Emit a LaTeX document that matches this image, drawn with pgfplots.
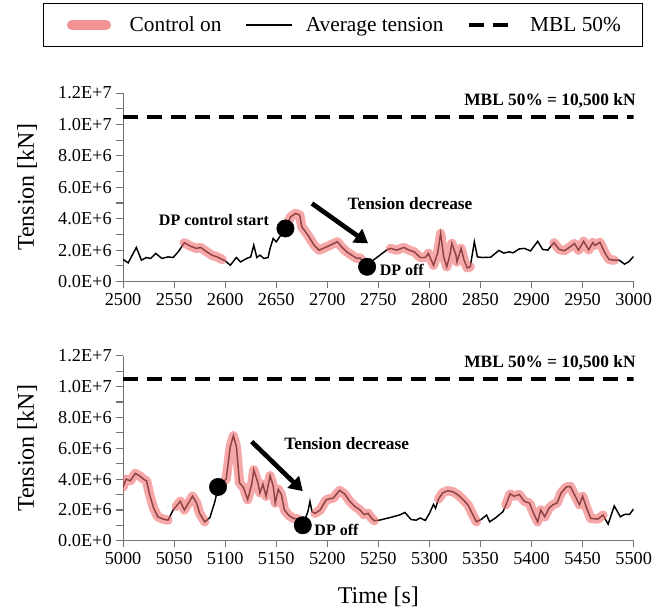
\documentclass[border=0pt]{standalone}
\usepackage{fontspec}
\setmainfont{Liberation Serif}
\usepackage{pgfplots}
\pgfplotsset{compat=1.18}
\usepackage{pgfplotstable}
\usetikzlibrary{arrows.meta}

\definecolor{ctrl}{RGB}{240,110,110}

% tension in 10^6 kN; c = value while control is on, nan otherwise
\pgfplotstableread{
t v c
2500 1.41 nan
2505 1.19 nan
2513 2.17 nan
2518 1.36 nan
2523 1.53 nan
2527 1.47 nan
2532 1.79 nan
2538 1.47 nan
2544 1.57 nan
2549 1.53 nan
2554 1.89 nan
2560 2.47 2.47
2566 2.25 2.25
2572 2.11 2.11
2576 2.17 2.17
2582 1.89 1.89
2587 1.68 1.68
2592 1.57 1.57
2597 1.41 1.41
2600 1.32 nan
2605 1.04 nan
2611 1.53 nan
2615 1.25 nan
2621 1.47 nan
2625 1.57 nan
2628 2.32 nan
2631 1.53 nan
2634 1.68 nan
2638 1.47 nan
2642 1.53 nan
2644 2.11 nan
2647 2.74 nan
2650 2.53 nan
2659 3.38 3.38
2664 4.12 4.12
2669 4.34 4.34
2673 4.23 4.23
2675 3.48 3.48
2678 3.23 3.23
2682 2.85 2.85
2687 2.32 2.32
2692 2.00 2.00
2698 2.17 2.17
2703 2.32 2.32
2710 2.53 2.53
2714 2.21 2.21
2719 1.89 1.89
2724 1.68 1.68
2729 1.47 1.47
2732 1.50 1.50
2739 0.94 0.94
2745 1.36 nan
2758 2.00 nan
2762 2.11 2.11
2768 2.00 2.00
2775 2.17 2.17
2780 2.00 2.00
2785 1.89 1.89
2791 1.53 1.53
2796 1.53 1.53
2799 1.79 1.79
2804 1.04 1.04
2808 1.79 1.79
2811 3.06 3.06
2814 1.57 1.57
2817 0.94 0.94
2820 1.68 1.68
2822 2.43 2.43
2826 1.68 1.68
2827 1.25 1.25
2831 2.11 2.11
2834 1.36 1.36
2837 0.87 0.87
2840 0.94 0.94
2844 2.53 nan
2847 1.57 nan
2852 1.53 nan
2860 1.55 nan
2868 1.98 nan
2873 1.81 nan
2878 1.89 nan
2882 1.83 nan
2888 2.08 nan
2893 2.11 nan
2899 1.95 nan
2906 2.56 nan
2911 2.04 nan
2916 2.00 nan
2919 2.25 nan
2922 2.47 2.47
2927 2.05 2.05
2932 1.96 1.96
2937 2.17 2.17
2942 2.42 2.42
2946 2.00 2.00
2951 2.56 2.56
2956 2.02 2.02
2960 2.48 2.48
2962 2.30 2.30
2967 2.50 2.50
2972 1.80 1.80
2976 1.40 1.40
2981 1.36 1.36
2986 1.36 nan
2991 1.11 nan
2995 1.25 nan
3000 1.60 nan
}\topdata

\pgfplotstableread{
t v c
5000 3.49 3.49
5003 4.00 4.00
5007 3.89 3.89
5012 4.37 4.37
5016 4.22 4.22
5020 4.00 4.00
5023 3.89 3.89
5026 3.00 3.00
5030 2.11 2.11
5034 1.56 1.56
5039 1.41 1.41
5044 1.34 1.34
5049 2.00 nan
5052 2.23 2.23
5056 2.56 2.56
5060 2.00 2.00
5068 2.89 2.89
5072 2.45 2.45
5075 1.78 1.78
5080 1.23 1.23
5085 1.50 nan
5090 2.56 nan
5093 3.49 3.49
5101 4.00 4.00
5105 6.10 6.10
5108 6.81 6.81
5111 6.10 6.10
5114 3.77 3.77
5118 3.44 3.44
5122 2.67 2.67
5126 3.67 3.67
5128 4.60 4.60
5132 3.77 3.77
5134 3.11 3.11
5137 3.67 3.67
5140 2.89 2.89
5144 4.22 4.22
5147 3.56 3.56
5149 2.45 2.45
5152 3.34 3.34
5155 3.00 3.00
5158 2.00 2.00
5162 1.67 1.67
5167 1.45 1.45
5171 1.41 1.41
5176 1.01 1.01
5181 1.89 nan
5183 2.56 nan
5185 1.89 nan
5188 1.78 1.78
5193 2.00 2.00
5199 2.67 2.67
5206 2.78 2.78
5212 3.27 3.27
5217 3.04 3.04
5222 2.56 2.56
5227 2.23 2.23
5232 2.00 2.00
5236 1.70 1.70
5240 1.78 1.78
5243 1.50 1.50
5246 1.30 1.30
5251 1.34 nan
5261 1.50 nan
5271 1.68 nan
5276 1.84 nan
5282 1.38 nan
5287 1.34 nan
5291 1.48 nan
5296 1.32 nan
5300 1.78 nan
5304 2.36 nan
5306 2.11 nan
5309 2.72 2.72
5313 3.11 3.11
5318 3.25 3.25
5323 3.18 3.18
5328 2.98 2.98
5333 2.67 2.67
5338 2.30 2.30
5341 1.89 1.89
5346 1.23 1.23
5351 1.40 nan
5356 1.67 nan
5359 1.23 nan
5365 1.50 nan
5372 1.89 nan
5375 2.34 2.34
5379 3.04 3.04
5383 2.89 2.89
5388 3.00 3.00
5393 2.56 2.56
5398 2.45 2.45
5402 1.78 1.78
5406 1.23 1.23
5409 2.00 2.00
5413 1.56 1.56
5417 2.11 2.11
5421 2.34 2.34
5425 2.45 2.45
5429 3.11 3.11
5434 3.49 3.49
5438 3.52 3.52
5442 3.00 3.00
5447 2.34 2.34
5450 2.89 2.89
5454 2.11 2.11
5458 1.45 1.45
5465 1.41 1.41
5470 1.67 1.67
5475 1.08 nan
5481 2.26 nan
5487 1.56 nan
5491 1.71 nan
5496 1.71 nan
5500 2.07 nan
}\botdata

\tikzset{
  note/.style={font=\rmfamily\bfseries\fontsize{12}{14}\selectfont},
  bignote/.style={font=\rmfamily\bfseries\fontsize{13}{15}\selectfont},
}
\pgfplotsset{
  ctrlband/.style={color=ctrl, opacity=0.6, line width=7pt, line cap=round, line join=round},
  avgline/.style={black, line width=1.1pt},
  mbl/.style={black, line width=3pt, dash pattern=on 11pt off 7pt},
  dot/.style={only marks, mark=*, mark size=6.5pt, black},
  tension/.style={
    scale only axis, width=382.75pt,
    anchor=south west, clip mode=individual,
    axis lines=left, axis line style={-, black!55, line width=0.8pt},
    tick style={black!55, line width=0.8pt},
    tick align=outside, major tick length=5pt, minor tick length=5pt,
    ymin=0, ymax=12,
    ytick={0,2,...,12},
    yticklabels={0.0E+0,2.0E+6,4.0E+6,6.0E+6,8.0E+6,1.0E+7,1.2E+7},
    minor y tick num=1,
    scaled ticks=false,
    /pgf/number format/1000 sep={},
    /pgf/number format/assume math mode=true,
    tick label style={font=\rmfamily\fontsize{13.7}{16}\selectfont},
    ylabel={Tension [kN]},
    ylabel style={at={(axis description cs:-0.188,0.5)}, anchor=center,
      font=\rmfamily\fontsize{18}{20}\selectfont},
    legend image code/.code={\draw[##1] (0pt,0pt) -- (34pt,0pt);},
  },
}

\begin{document}
\begin{tikzpicture}
\useasboundingbox (0,0) rectangle (500pt,-461.25pt);

\begin{axis}[tension,
    at={(92.25pt,-211.05pt)}, height=141.3pt,
    xmin=2500, xmax=3000, xtick={2500,2550,...,3000},
    legend columns=3,
    legend style={at={(0.43,1.478)}, anchor=north, draw=black, line width=0.6pt,
      font=\rmfamily\fontsize{16}{18}\selectfont, inner xsep=14pt, inner ysep=8pt,
      /tikz/every odd column/.append style={column sep=8pt},
      /tikz/every even column/.append style={column sep=16pt}},
  ]
  \addlegendimage{ctrlband, opacity=0.75, shorten <=4pt, shorten >=4pt}\addlegendentry{Control on}
  \addlegendimage{avgline}\addlegendentry{Average tension}
  \addlegendimage{mbl}\addlegendentry{MBL 50\%}
  \addplot[avgline, forget plot] table[x=t, y=v]{\topdata};
  \addplot[ctrlband, forget plot, unbounded coords=jump] table[x=t, y=c]{\topdata};
  \addplot[mbl, forget plot] coordinates {(2500,10.5) (3000,10.5)};
  \addplot[dot, forget plot] coordinates {(2659,3.38) (2739,0.94)};
  \node[bignote, anchor=south east, xshift=5pt, yshift=3pt] at (axis cs:3000,10.5)
    {MBL 50\% = 10,500 kN};
  \node[note] at (axis cs:2589,3.9) {DP control start};
  \node[note] at (axis cs:2773,0.73) {DP off};
  \node[bignote] at (axis cs:2781,4.99) {Tension decrease};
  \draw[line width=3.5pt, -{Triangle[length=10pt, width=12pt]}]
    (axis cs:2685,4.97) -- (axis cs:2740,2.43);
\end{axis}

\begin{axis}[tension,
    at={(92.25pt,-405.4pt)}, height=138.75pt,
    xmin=5000, xmax=5500, xtick={5000,5050,...,5500},
    xlabel={Time [s]},
    xlabel style={at={(axis description cs:0.5,-0.30)}, anchor=center,
      font=\rmfamily\fontsize{18}{20}\selectfont},
  ]
  \addplot[avgline] table[x=t, y=v]{\botdata};
  \addplot[ctrlband, unbounded coords=jump] table[x=t, y=c]{\botdata};
  \addplot[mbl] coordinates {(5000,10.5) (5500,10.5)};
  \addplot[dot] coordinates {(5093,3.49) (5176,1.01)};
  \node[bignote, anchor=south east, xshift=5pt, yshift=3pt] at (axis cs:5500,10.5)
    {MBL 50\% = 10,500 kN};
  \node[note] at (axis cs:5209,0.68) {DP off};
  \node[bignote] at (axis cs:5219,6.33) {Tension decrease};
  \draw[line width=3.5pt, -{Triangle[length=10pt, width=12pt]}]
    (axis cs:5126,6.43) -- (axis cs:5176,3.22);
\end{axis}
\end{tikzpicture}
\end{document}
